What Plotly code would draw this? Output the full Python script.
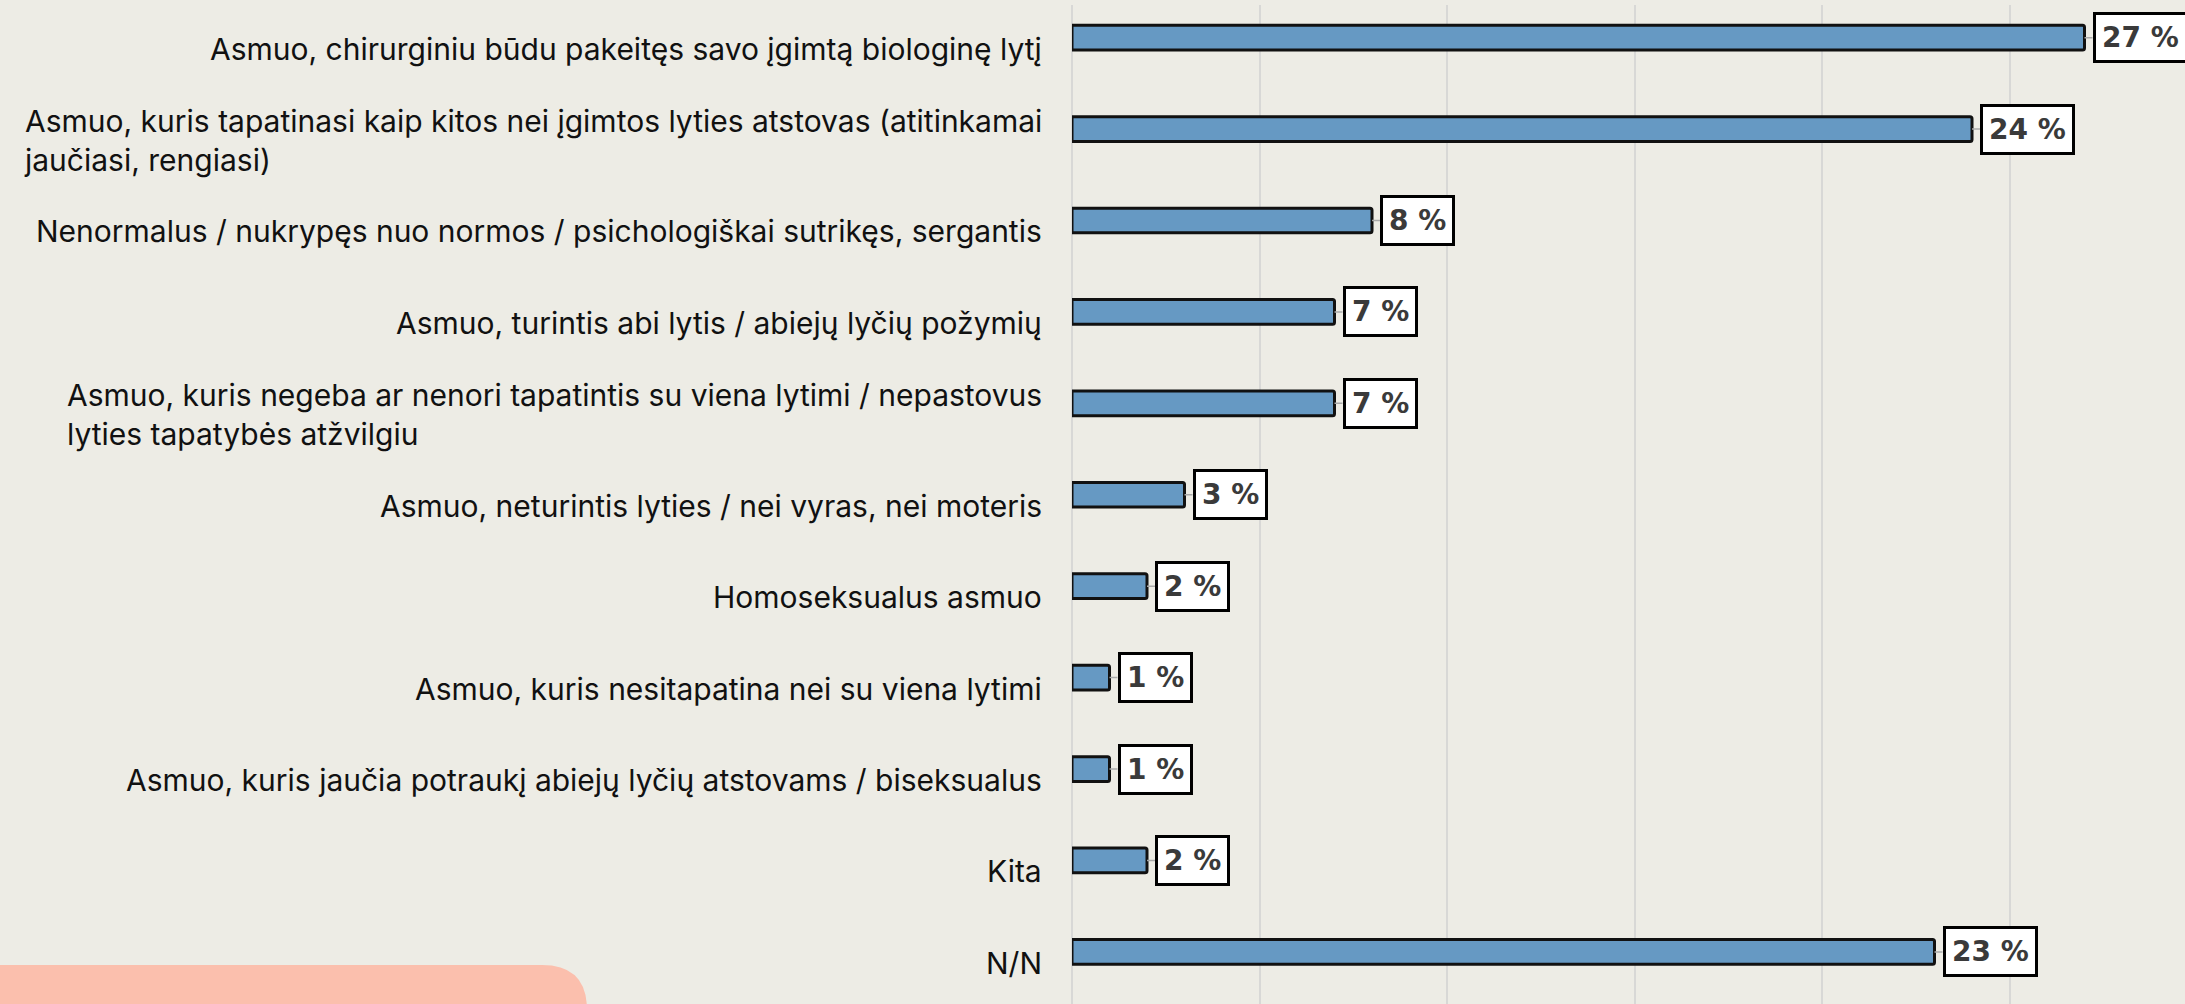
import plotly.graph_objects as go

categories = [
    "Asmuo, chirurginiu būdu pakeitęs savo įgimtą biologinę lytį",
    "Asmuo, kuris tapatinasi kaip kitos nei įgimtos lyties atstovas (atitinkamai<br>jaučiasi, rengiasi)",
    "Nenormalus / nukrypęs nuo normos / psichologiškai sutrikęs, sergantis",
    "Asmuo, turintis abi lytis / abiejų lyčių požymių",
    "Asmuo, kuris negeba ar nenori tapatintis su viena lytimi / nepastovus<br>lyties tapatybės atžvilgiu",
    "Asmuo, neturintis lyties / nei vyras, nei moteris",
    "Homoseksualus asmuo",
    "Asmuo, kuris nesitapatina nei su viena lytimi",
    "Asmuo, kuris jaučia potraukį abiejų lyčių atstovams / biseksualus",
    "Kita",
    "N/N",
]
values = [27, 24, 8, 7, 7, 3, 2, 1, 1, 2, 23]
value_labels = [f"{v} %" for v in values]

W, H = 2185, 1004
ML, MT, MR, MB = 1072, 5, 0, 0
BG = "#EDECE5"

fig = go.Figure()
fig.add_trace(go.Bar(
    x=values, y=categories, orientation="h",
    width=0.27,
    marker=dict(color="#6699C3", line=dict(color="#111111", width=3), cornerradius=2),
    hoverinfo="skip",
))

annotations = []
for c in categories:
    annotations.append(dict(
        x=0, xref="paper", y=c, yref="y", xanchor="right", yanchor="middle",
        xshift=-28, yshift=-11, align="left", showarrow=False, text=c,
        font=dict(family="Inter", size=30, color="#111111"),
    ))
for c, v, t in zip(categories, values, value_labels):
    annotations.append(dict(
        x=v, xref="x", y=c, yref="y", text=f"<b>{t}</b>",
        showarrow=True, arrowhead=0, arrowwidth=1.5, arrowcolor="#AAAAAA",
        ax=8, ay=0, axref="pixel", ayref="pixel", xanchor="left", yanchor="middle",
        bgcolor="white", bordercolor="#000000", borderwidth=3, borderpad=6,
        font=dict(family="DejaVu Sans", size=28, color="#3A3A3A"),
    ))

# decorative pink block bottom-left (pixel -> paper conversion)
pw = W - ML - MR
ph = H - MT - MB
def px(xp):
    return (xp - ML) / pw
def py(yp):
    return (H - MB - yp) / ph
top, right, r = 965, 587, 45
path = (f"M {px(0)},{py(H + 20)} L {px(0)},{py(top)} L {px(right - r)},{py(top)} "
        f"Q {px(right)},{py(top)} {px(right)},{py(top + r)} L {px(right)},{py(H + 20)} Z")

fig.update_layout(
    width=W, height=H,
    margin=dict(l=ML, r=MR, t=MT, b=MB),
    paper_bgcolor=BG, plot_bgcolor=BG,
    showlegend=False,
    annotations=annotations,
    shapes=[dict(type="path", path=path, xref="paper", yref="paper",
                 fillcolor="#FBBFAD", line=dict(width=0), layer="below")],
    xaxis=dict(range=[0, 29.68], dtick=5, tick0=0, showgrid=True, gridcolor="#D8D8D6",
               gridwidth=2, zeroline=True, zerolinecolor="#D8D8D6", zerolinewidth=2,
               showticklabels=False, showline=False, fixedrange=True),
    yaxis=dict(type="category", range=[10.57, -0.357], showticklabels=False,
               showgrid=False, zeroline=False, showline=False, ticks=""),
)

fig.write_html("out.html", config={"displayModeBar": False},
               post_script="document.body.style.margin='0';document.body.style.background='#EDECE5';")
